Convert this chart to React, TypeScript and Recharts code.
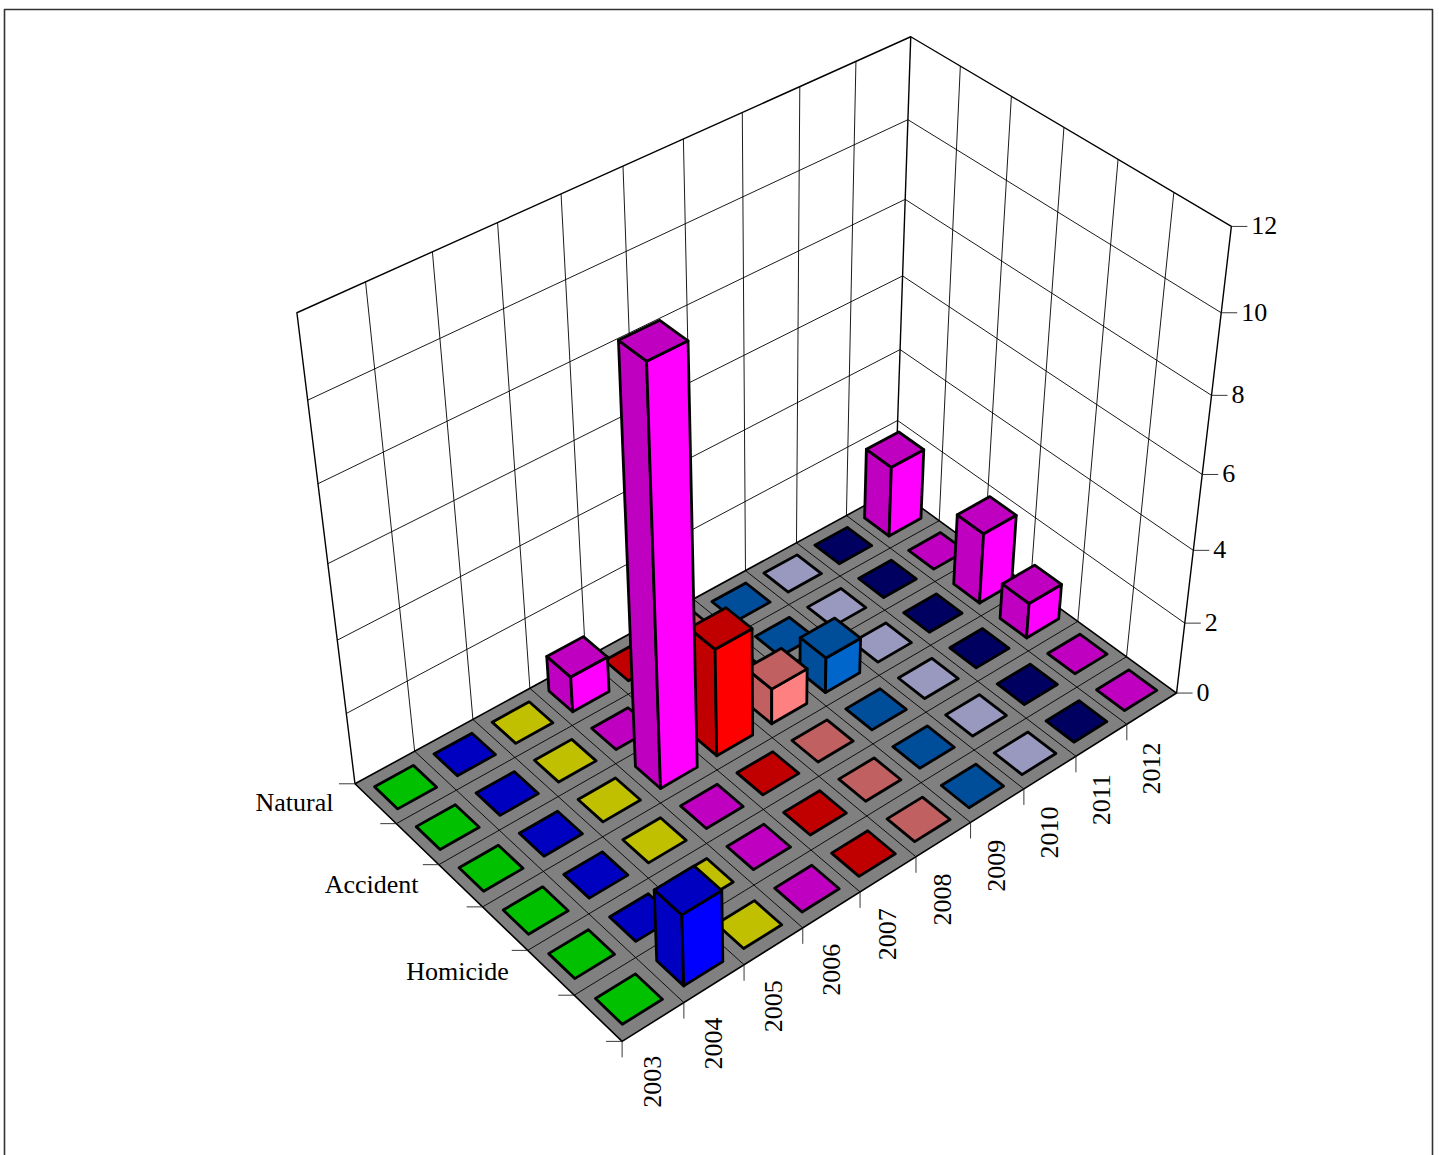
import React from 'react';
import { ScatterChart, Scatter, XAxis, YAxis } from 'recharts';

const WIDTH = 1439;
const HEIGHT = 1155;

const years = ['2003', '2004', '2005', '2006', '2007', '2008', '2009', '2010', '2011', '2012'];
const rowLabels = ['Natural', '', 'Accident', '', 'Homicide', ''];
const zTicks = [0, 2, 4, 6, 8, 10, 12];
const zMax = 12;

// one list per depth row, one value per year
const row0 = [0, 0, 0, 1, 0, 0, 0, 0, 0, 2];
const row1 = [0, 0, 0, 0, 0, 0, 0, 0, 0, 0];
const row2 = [0, 0, 0, 11, 3, 1, 1, 0, 0, 2];
const row3 = [0, 0, 0, 0, 0, 0, 0, 0, 0, 1];
const row4 = [0, 0, 0, 0, 0, 0, 0, 0, 0, 0];
const row5 = [0, 2, 0, 0, 0, 0, 0, 0, 0, 0];
const rows = [row0, row1, row2, row3, row4, row5];

// per year: shaded colour (top and left face), bright colour (right face)
const shaded = ['#00c000', '#0000c0', '#c0c000', '#c000c0', '#c00000', '#c06060', '#004d99', '#9999bf', '#000060', '#c000c0'];
const bright = ['#00ff00', '#0000ff', '#ffff00', '#ff00ff', '#ff0000', '#ff8080', '#0066cc', '#ccccff', '#000080', '#ff00ff'];

// picture position of the box corners, as [u, v, w, px, py]
const anchors = [
  [0, 0, 0, 355, 783],
  [0, 1, 0, 622, 1042],
  [1, 1, 0, 1177, 692],
  [1, 0, 0, 895, 490],
  [0, 0, 1, 297, 313],
  [1, 1, 1, 1231, 227],
  [1, 0, 1, 911, 36],
];

// least squares fit of the 3x4 camera matrix
function fitCamera(): number[] {
  const n = 11;
  const ata = Array.from({ length: n }, () => new Array(n + 1).fill(0));
  const addRow = (r: number[], b: number) => {
    for (let i = 0; i < n; i++) {
      for (let j = 0; j < n; j++) ata[i][j] += r[i] * r[j];
      ata[i][n] += r[i] * b;
    }
  };
  anchors.forEach(([u, v, w, px, py]) => {
    addRow([u, v, w, 1, 0, 0, 0, 0, -px * u, -px * v, -px * w], px);
    addRow([0, 0, 0, 0, u, v, w, 1, -py * u, -py * v, -py * w], py);
  });
  for (let i = 0; i < n; i++) {
    let best = i;
    for (let k = i + 1; k < n; k++) if (Math.abs(ata[k][i]) > Math.abs(ata[best][i])) best = k;
    [ata[i], ata[best]] = [ata[best], ata[i]];
    for (let k = 0; k < n; k++) {
      if (k === i) continue;
      const f = ata[k][i] / ata[i][i];
      for (let j = i; j <= n; j++) ata[k][j] -= f * ata[i][j];
    }
  }
  return ata.map((r, i) => r[n] / r[i]);
}

const cam = fitCamera();
const project = (u: number, v: number, w: number): number[] => {
  const d = cam[8] * u + cam[9] * v + cam[10] * w + 1;
  return [
    (cam[0] * u + cam[1] * v + cam[2] * w + cam[3]) / d,
    (cam[4] * u + cam[5] * v + cam[6] * w + cam[7]) / d,
  ];
};

const nCols = years.length;
const nRows = rows.length;
const INSET_U = 0.175;
const INSET_V = 0.22;

type Seg = { x: number; y: number; pts: number[][]; fill?: string; sw: number; stroke?: string };
const seg = (pts: number[][], sw: number, stroke = '#000', fill = 'none'): Seg => ({ x: pts[0][0], y: pts[0][1], pts, sw, stroke, fill });

// frame
const frameSegs = [seg([[4.5, 1155], [4.5, 9.5], [1432.5, 9.5], [1432.5, 1155]], 1.6, '#333')];

// back walls
const wallSegs: Seg[] = [];
zTicks.slice(1, -1).forEach((t) => {
  const w = t / zMax;
  wallSegs.push(seg([project(0, 0, w), project(1, 0, w), project(1, 1, w)], 0.9));
});
for (let c = 1; c < nCols; c++) wallSegs.push(seg([project(c / nCols, 0, 0), project(c / nCols, 0, 1)], 0.9));
for (let r = 1; r < nRows; r++) wallSegs.push(seg([project(1, r / nRows, 0), project(1, r / nRows, 1)], 0.9));
wallSegs.push(seg([project(0, 0, 0), project(0, 0, 1), project(1, 0, 1), project(1, 1, 1), project(1, 1, 0)], 1.4));
wallSegs.push(seg([project(1, 0, 0), project(1, 0, 1)], 1.4));

// floor
const floorSegs: Seg[] = [
  seg([project(0, 0, 0), project(0, 1, 0), project(1, 1, 0), project(1, 0, 0), project(0, 0, 0)], 1.6, '#000', '#808080'),
];
for (let c = 1; c < nCols; c++) floorSegs.push(seg([project(c / nCols, 0, 0), project(c / nCols, 1, 0)], 0.9));
for (let r = 1; r < nRows; r++) floorSegs.push(seg([project(0, r / nRows, 0), project(1, r / nRows, 0)], 0.9));

// axis ticks
const tickSegs: Seg[] = [];
const offsetPt = (p: number[], dx: number, dy: number) => [p[0] + dx, p[1] + dy];
for (let c = 0; c < nCols; c++) {
  const p = project(c / nCols, 1, 0);
  tickSegs.push(seg([p, offsetPt(p, 0, 16)], 0.9, '#222'));
}
for (let r = 0; r <= nRows; r++) {
  const p = project(0, r / nRows, 0);
  tickSegs.push(seg([p, offsetPt(p, -16, 0)], 0.9, '#222'));
}
zTicks.forEach((t) => {
  const p = project(1, 1, t / zMax);
  tickSegs.push(seg([p, offsetPt(p, 16, 0)], 0.9, '#222'));
});

// axis labels
const yearLabels = years.map((text, c) => {
  const p = project((c + 0.5) / nCols, 1, 0);
  return { x: p[0], y: p[1], text, kind: 'year' };
});
const depthLabels = rowLabels.filter(Boolean).map((text) => {
  const p = project(0, (rowLabels.indexOf(text) + 0.5) / nRows, 0);
  return { x: p[0], y: p[1], text, kind: 'depth' };
});
const valueLabels = zTicks.map((t) => {
  const p = project(1, 1, t / zMax);
  return { x: p[0], y: p[1], text: String(t), kind: 'value' };
});

// bars, far ones first
const barPoints: { x: number; y: number; col: number; row: number; value: number }[] = [];
rows.forEach((vals, row) => {
  for (let col = nCols - 1; col >= 0; col--) {
    const p = project((col + 0.5) / nCols, (row + 0.5) / nRows, 0);
    barPoints.push({ x: p[0], y: p[1], col, row, value: vals[col] });
  }
});

const toPath = (pts: number[][], dx: number, dy: number, close = false) =>
  pts.map((p, i) => `${i ? 'L' : 'M'}${(p[0] + dx).toFixed(2)} ${(p[1] + dy).toFixed(2)}`).join(' ') + (close ? ' Z' : '');

const SegShape = (props: any) => {
  const { cx, cy, payload } = props;
  return (
    <path
      d={toPath(payload.pts, cx - payload.x, cy - payload.y)}
      fill={payload.fill}
      stroke={payload.stroke}
      strokeWidth={payload.sw}
      strokeLinejoin="round"
    />
  );
};

const BarShape = (props: any) => {
  const { cx, cy, payload } = props;
  const { col, row, value, x, y } = payload;
  const dx = cx - x;
  const dy = cy - y;
  const u0 = (col + INSET_U) / nCols;
  const u1 = (col + 1 - INSET_U) / nCols;
  const v0 = (row + INSET_V) / nRows;
  const v1 = (row + 1 - INSET_V) / nRows;
  const w = value / zMax;
  const common = { stroke: '#000', strokeWidth: 2.8, strokeLinejoin: 'round' as const };
  const top = [project(u0, v0, w), project(u1, v0, w), project(u1, v1, w), project(u0, v1, w)];
  if (!value) return <path d={toPath(top, dx, dy, true)} fill={shaded[col]} {...common} />;
  const left = [project(u0, v0, 0), project(u0, v1, 0), project(u0, v1, w), project(u0, v0, w)];
  const right = [project(u0, v1, 0), project(u1, v1, 0), project(u1, v1, w), project(u0, v1, w)];
  return (
    <g>
      <path d={toPath(left, dx, dy, true)} fill={shaded[col]} {...common} />
      <path d={toPath(right, dx, dy, true)} fill={bright[col]} {...common} />
      <path d={toPath(top, dx, dy, true)} fill={shaded[col]} {...common} />
    </g>
  );
};

const LabelShape = (props: any) => {
  const { cx, cy, payload } = props;
  const font = { fontFamily: '"Liberation Serif", serif', fontSize: 26, fill: '#000' };
  if (payload.kind === 'year') {
    return (
      <text transform={`translate(${cx + 8},${cy + 34}) rotate(-90)`} textAnchor="end" {...font}>
        {payload.text}
      </text>
    );
  }
  if (payload.kind === 'depth') {
    return (
      <text x={cx - 42} y={cy + 7} textAnchor="end" {...font}>
        {payload.text}
      </text>
    );
  }
  return (
    <text x={cx + 20} y={cy + 8} {...font}>
      {payload.text}
    </text>
  );
};

export default function App() {
  return (
    <div style={{ position: 'absolute', left: 0, top: 0, width: WIDTH, height: HEIGHT, overflow: 'hidden', background: '#fff' }}>
      <ScatterChart width={WIDTH} height={HEIGHT} margin={{ top: 0, right: 0, bottom: 0, left: 0 }}>
        <XAxis type="number" dataKey="x" domain={[0, WIDTH]} hide />
        <YAxis type="number" dataKey="y" domain={[0, HEIGHT]} reversed hide />
        <Scatter data={frameSegs} shape={SegShape} isAnimationActive={false} />
        <Scatter data={wallSegs} shape={SegShape} isAnimationActive={false} />
        <Scatter data={floorSegs} shape={SegShape} isAnimationActive={false} />
        <Scatter data={tickSegs} shape={SegShape} isAnimationActive={false} />
        <Scatter data={[...yearLabels, ...depthLabels, ...valueLabels]} shape={LabelShape} isAnimationActive={false} />
        <Scatter data={barPoints} shape={BarShape} isAnimationActive={false} />
      </ScatterChart>
    </div>
  );
}
